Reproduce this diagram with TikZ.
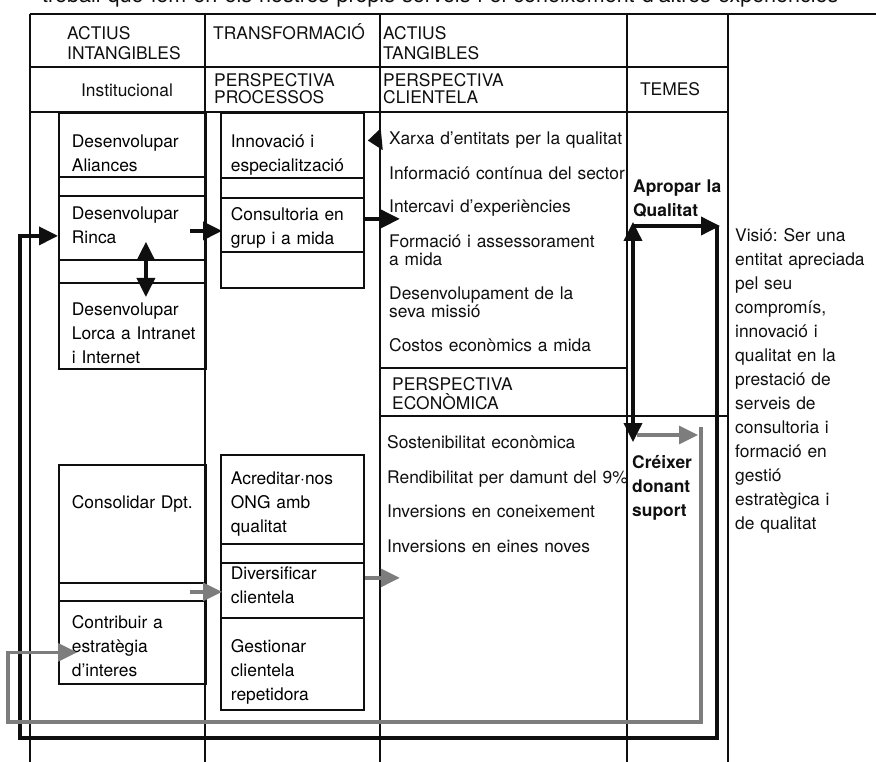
\documentclass[tikz,border=0pt]{standalone}
\usepackage{fontspec}
\setmainfont{TeX Gyre Heros}
\usetikzlibrary{arrows.meta, calc}
\definecolor{cGray}{RGB}{125,125,125}
\definecolor{tDark}{RGB}{15,15,15}
\hyphenpenalty=10000
\frenchspacing

\begin{document}
\begin{tikzpicture}[
    x=1pt, y=-1pt,
    font=\fontsize{17.4}{24}\selectfont,
    >={Triangle[length=19pt, width=18pt]},
    grid/.style={line width=1.8pt, color=tDark},
    cellA/.style={draw=tDark, line width=1.8pt, anchor=north west, align=left,
        inner ysep=0pt, inner xsep=13pt, text width=121pt},
    cellB/.style={draw=tDark, line width=1.8pt, anchor=north west, align=left,
        inner ysep=0pt, inner xsep=10pt, text width=123pt},
    txt/.style={inner sep=0pt, anchor=base west, align=left, text=tDark, text width=300pt},
    ctr/.style={inner sep=0pt, anchor=base, text=tDark},
    tight/.style={font=\fontsize{17.4}{#1}\selectfont},
    bold/.style={font=\fontsize{17.4}{24}\selectfont\bfseries},
    arr/.style={->, line width=3.6pt, line join=miter, color=tDark},
    dbl/.style={<->, line width=3.6pt, color=tDark},
    garr/.style={->, line width=3.2pt, line join=miter, color=cGray}
]
\useasboundingbox (0,0) rectangle (876,762);

\node[txt, text width=900pt, font=\fontsize{21.5}{24}\selectfont] (title) at (42,3) {treball que fem en els nostres propis serveis i el coneixement d’altres experiències};

% table
\draw[grid] (30,14) -- (876,14);
\foreach \x in {30,205,380,627,728}
    \draw[grid] (\x,14) -- (\x,762);
\draw[grid] (30,67) -- (728,67);
\draw[grid] (30,112) -- (728,112);
\draw[grid] (380,368) -- (627,368);
\draw[grid] (380,416) -- (728,416);

% headers
\node[txt, tight=20] (hint) at (67,40) {ACTIUS\\INTANGIBLES};
\node[txt] (htrans) at (213,40) {TRANSFORMACIÓ};
\node[txt, tight=20] (htang) at (383,40) {ACTIUS\\TANGIBLES};
\node[ctr] (hinst) at (127,97) {Institucional};
\node[txt, tight=17] (hproc) at (214,87) {PERSPECTIVA\\PROCESSOS};
\node[txt, tight=17] (hclient) at (383,87) {PERSPECTIVA\\CLIENTELA};
\node[ctr] (htemes) at (670,96) {TEMES};

% institucional
\node[cellA, text height=34.5pt, text depth=29.5pt] (alian) at (58,112) {Desenvolupar\\Aliances};
\node[cellA, minimum height=19pt] (sp1) at (58,176) {};
\node[cellA, text height=24pt, text depth=40pt] (rinca) at (58,195) {Desenvolupar\\Rinca};
\node[cellA, minimum height=23pt] (sp2) at (58,259) {};
\node[cellA, text height=33pt, text depth=53pt] (lorca) at (58,282) {Desenvolupar\\\mbox{Lorca a Intranet}\\i Internet};
\node[cellA, text height=44pt, text depth=74pt] (cons) at (58,464) {Consolidar Dpt.};
\node[cellA, minimum height=18pt] (sp3) at (58,582) {};
\node[cellA, text height=27.5pt, text depth=55.5pt] (contr) at (58,600) {Contribuir a\\estratègia\\d'interes};

% processos
\node[cellB, text height=34.5pt, text depth=30.5pt] (innov) at (220,112) {Innovació i\\especialització};
\node[cellB, minimum height=20pt] (sp4) at (220,177) {};
\node[cellB, text height=22.5pt, text depth=31.5pt] (consu) at (220,197) {Consultoria en\\grup i a mida};
\node[cellB, minimum height=36pt] (sp5) at (220,251) {};
\node[cellB, text height=30pt, text depth=59pt] (acred) at (220,454) {Acreditar·nos\\ONG amb\\qualitat};
\node[cellB, minimum height=19pt] (sp6) at (220,543) {};
\node[cellB, text height=17pt, text depth=38pt] (diver) at (220,562) {Diversificar\\clientela};
\node[cellB, text height=35pt, text depth=57pt] (gest) at (220,617) {Gestionar\\clientela\\repetidora};

% clientela
\node[txt] (xarxa) at (389,145) {Xarxa d’entitats per la qualitat};
\node[txt] (info) at (389,180) {Informació contínua del sector};
\node[txt] (interc) at (389,213) {Intercavi d’experiències};
\node[txt, tight=17.5] (forma) at (389,248) {Formació i assessorament\\a mida};
\node[txt, tight=17.5] (desen) at (389,300) {Desenvolupament de la\\seva missió};
\node[txt] (costos) at (389,352) {Costos econòmics a mida};

% economica
\node[txt, tight=19] (hecon) at (392,390) {PERSPECTIVA\\ECONÒMICA};
\node[txt] (sost) at (387,448) {Sostenibilitat econòmica};
\node[txt] (rendi) at (387,483) {Rendibilitat per damunt del 9\%};
\node[txt] (invc) at (387,517) {Inversions en coneixement};
\node[txt] (inve) at (387,552) {Inversions en eines noves};

% temes
\node[txt, bold] (aprop) at (633,193) {Apropar la\\Qualitat};
\node[txt, bold] (creix) at (632,468) {Créixer\\donant\\suport};

% visio
\node[txt] (visio) at (735,241.7) {Visió: Ser una\\entitat apreciada\\pel seu\\compromís,\\innovació i\\qualitat en la\\prestació de\\serveis de\\consultoria i\\formació en\\gestió\\estratègica i\\de qualitat};

% connectors
\coordinate (qtop) at (633,222);
\coordinate (qbot) at (633,442);
\coordinate (vcorner) at (717,226);
\coordinate (loopbl) at (20,738);
\coordinate (gstart) at (637,435);
\coordinate (gtop) at (701,427);
\coordinate (loopgl) at (8,722);

\draw[arr, -{Triangle[length=14pt, width=21pt]}, shorten <=9pt] ([yshift=2pt]xarxa.west) -- ([xshift=3pt]innov.east |- xarxa.west);
\draw[arr] ([xshift=-17pt,yshift=-3pt]rinca.east) -- ([xshift=2pt,yshift=-6pt]consu.west);
\draw[arr] ([yshift=6pt]consu.east) -- +(35pt,0);
\draw[dbl] ([xshift=13.5pt,yshift=19pt]rinca.south) -- ([xshift=13.5pt,yshift=-15pt]lorca.north);
\draw[dbl] (qtop) -- (qbot);
\draw[arr] (qtop |- vcorner) -- ([xshift=3pt]vcorner);
\draw[arr] (vcorner) |- (loopbl) |- ([yshift=-8pt]rinca.west);

\draw[garr] ([xshift=-17pt]sp3.east) -- ([xshift=2pt]diver.west |- sp3.east);
\draw[garr] ([yshift=12.5pt]diver.east) -- +(35pt,0);
\draw[garr] (gstart) -- ([xshift=-3pt]gstart -| gtop);
\draw[garr] (gtop) |- (loopgl) |- ([xshift=19pt,yshift=-10pt]contr.west);

\end{tikzpicture}
\end{document}
